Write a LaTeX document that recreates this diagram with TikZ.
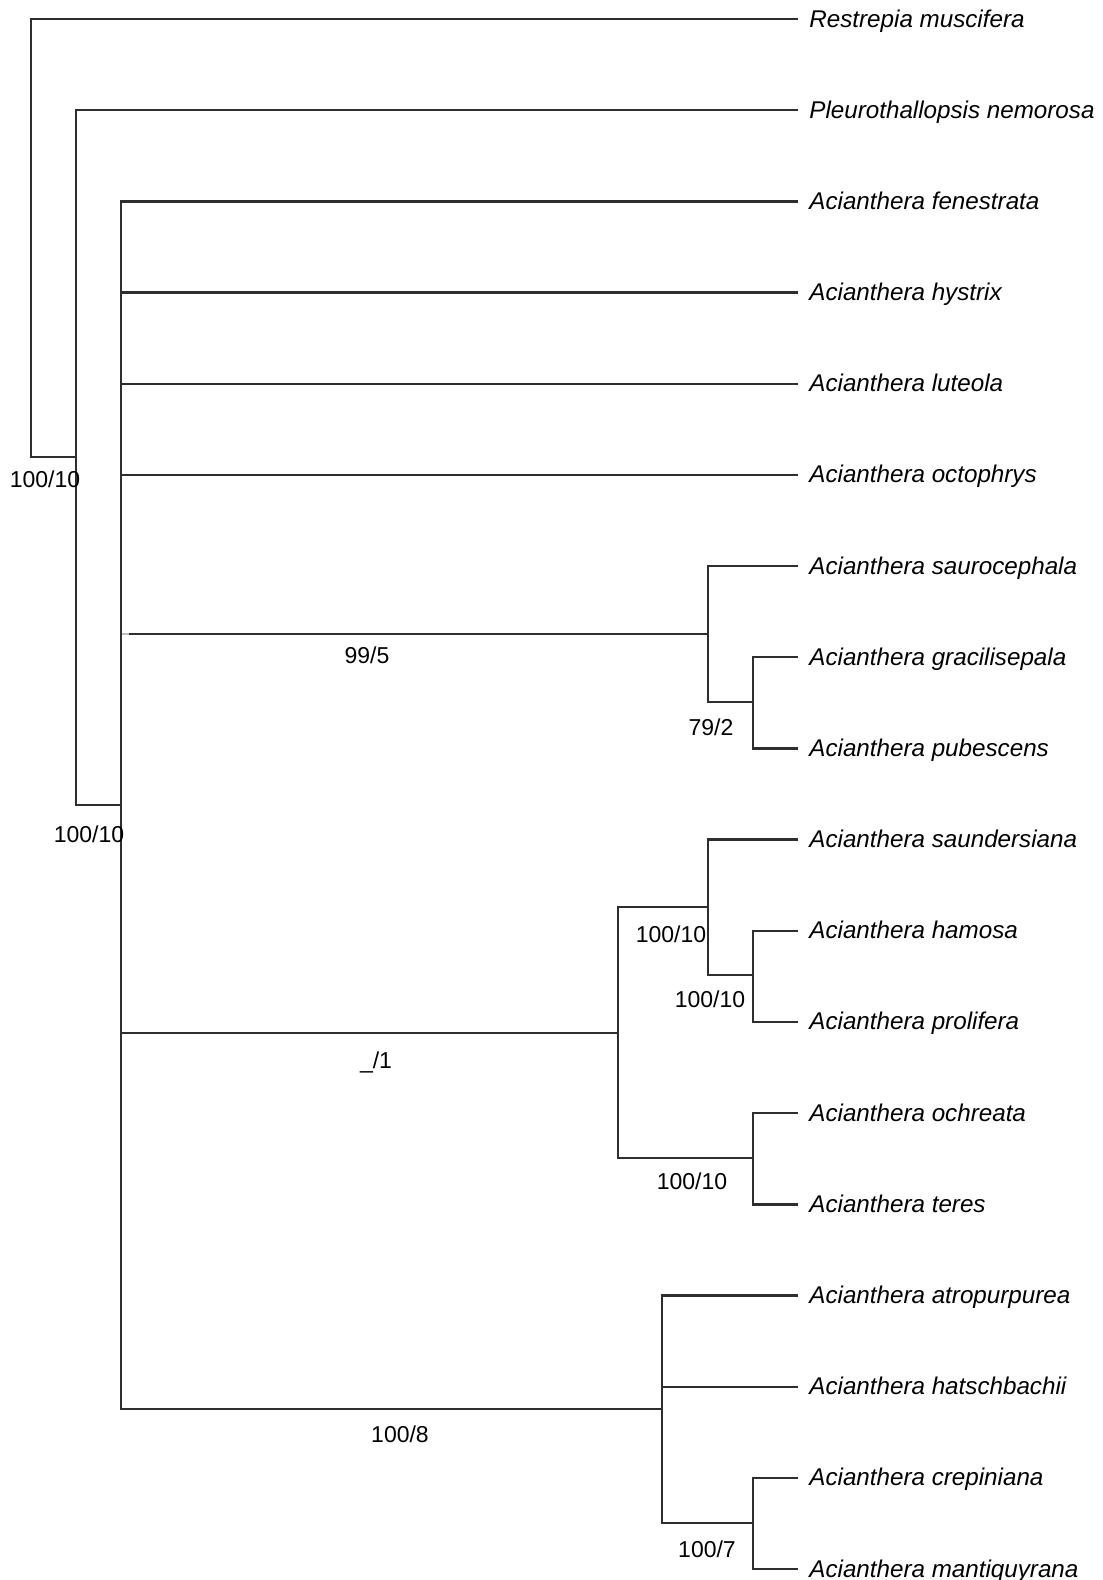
\documentclass[tikz,border=0pt]{standalone}
\usepackage{fontspec}
\setmainfont{Liberation Sans}
\usetikzlibrary{positioning}

\begin{document}
\begin{tikzpicture}[x=0.5pt,y=-0.5pt,
  branch/.style={line width=1.15pt, draw=black!82},
  taxon/.style={anchor=west, inner xsep=5.5pt, inner ysep=0pt, text height=8pt, text depth=0pt, font=\fontsize{12.1}{14}\selectfont\itshape},
  support/.style={inner sep=0pt, font=\fontsize{11.5}{13}\selectfont}]

  \useasboundingbox (0,0) rectangle (1103,1580);

  % taxa (one row every 91.18 units)
  \foreach \nm/\txt [count=\i from 0] in {
      resm/Restrepia muscifera, plen/Pleurothallopsis nemorosa,
      afen/Acianthera fenestrata, ahys/Acianthera hystrix,
      alut/Acianthera luteola, aoct/Acianthera octophrys,
      asau/Acianthera saurocephala, agra/Acianthera gracilisepala,
      apub/Acianthera pubescens, asdr/Acianthera saundersiana,
      aham/Acianthera hamosa, apro/Acianthera prolifera,
      aoch/Acianthera ochreata, ater/Acianthera teres,
      aatr/Acianthera atropurpurea, ahat/Acianthera hatschbachii,
      acre/Acianthera crepiniana, aman/Acianthera mantiquyrana}
    \node[taxon] (\nm) at (798,{19+\i*91.18}) {\txt};

  % internal nodes
  \coordinate (root) at (31,238);
  \coordinate (nPle) at (76,457);
  \coordinate (nAci) at (121,805);
  \coordinate (nSau) at (708,634);
  \coordinate (nGra) at (753,702);
  \coordinate (nOch) at (618,1033);
  \coordinate (nSdr) at (708,907);
  \coordinate (nHam) at (753,975);
  \coordinate (nTer) at (753,1158);
  \coordinate (nAtr) at (662,1409);
  \coordinate (nCre) at (753,1523);

  % branches
  \draw[branch] (resm.west) -| (root);
  \draw[branch] (nPle) -| (root);
  \draw[branch] (plen.west) -| (nPle);
  \draw[branch] (nAci) -| (nPle);
  \foreach \nm in {afen,ahys,alut,aoct}
    \draw[branch] (\nm.west) -| (nAci);
  \draw[branch] (nSau) -- (nSau -| 129,0);
  \draw[draw=black!25, line width=1.15pt] (nSau -| 129,0) -- (nSau -| 122,0);
  \draw[branch] (nOch) -| (nAci);
  \draw[branch] (nAtr) -| (nAci);
  \draw[branch] (asau.west) -| (nSau);
  \draw[branch] (nGra) -| (nSau);
  \draw[branch] (agra.west) -| (nGra);
  \draw[branch] (apub.west) -| (nGra);
  \draw[branch] (nSdr) -| (nOch);
  \draw[branch] (nTer) -| (nOch);
  \draw[branch] (asdr.west) -| (nSdr);
  \draw[branch] (nHam) -| (nSdr);
  \draw[branch] (aham.west) -| (nHam);
  \draw[branch] (apro.west) -| (nHam);
  \draw[branch] (aoch.west) -| (nTer);
  \draw[branch] (ater.west) -| (nTer);
  \draw[branch] (aatr.west) -| (nAtr);
  \draw[branch] (ahat.west) -| (nAtr);
  \draw[branch] (nCre) -| (nAtr);
  \draw[branch] (acre.west) -| (nCre);
  \draw[branch] (aman.west) -| (nCre);

  % support values
  \node[support] (sRoot) at (45,479) {100/10};
  \node[support] (sAci) at (89,834) {100/10};
  \node[support] (sSau) at (367,655) {99/5};
  \node[support] (sGra) at (711,727) {79/2};
  \node[support] (sOch) at (376,1062) {\_/1};
  \node[support] (sSdr) at (671,934) {100/10};
  \node[support] (sHam) at (710,999) {100/10};
  \node[support] (sTer) at (692,1181) {100/10};
  \node[support] (sAtr) at (400,1434) {100/8};
  \node[support] (sCre) at (707,1549) {100/7};

\end{tikzpicture}
\end{document}
